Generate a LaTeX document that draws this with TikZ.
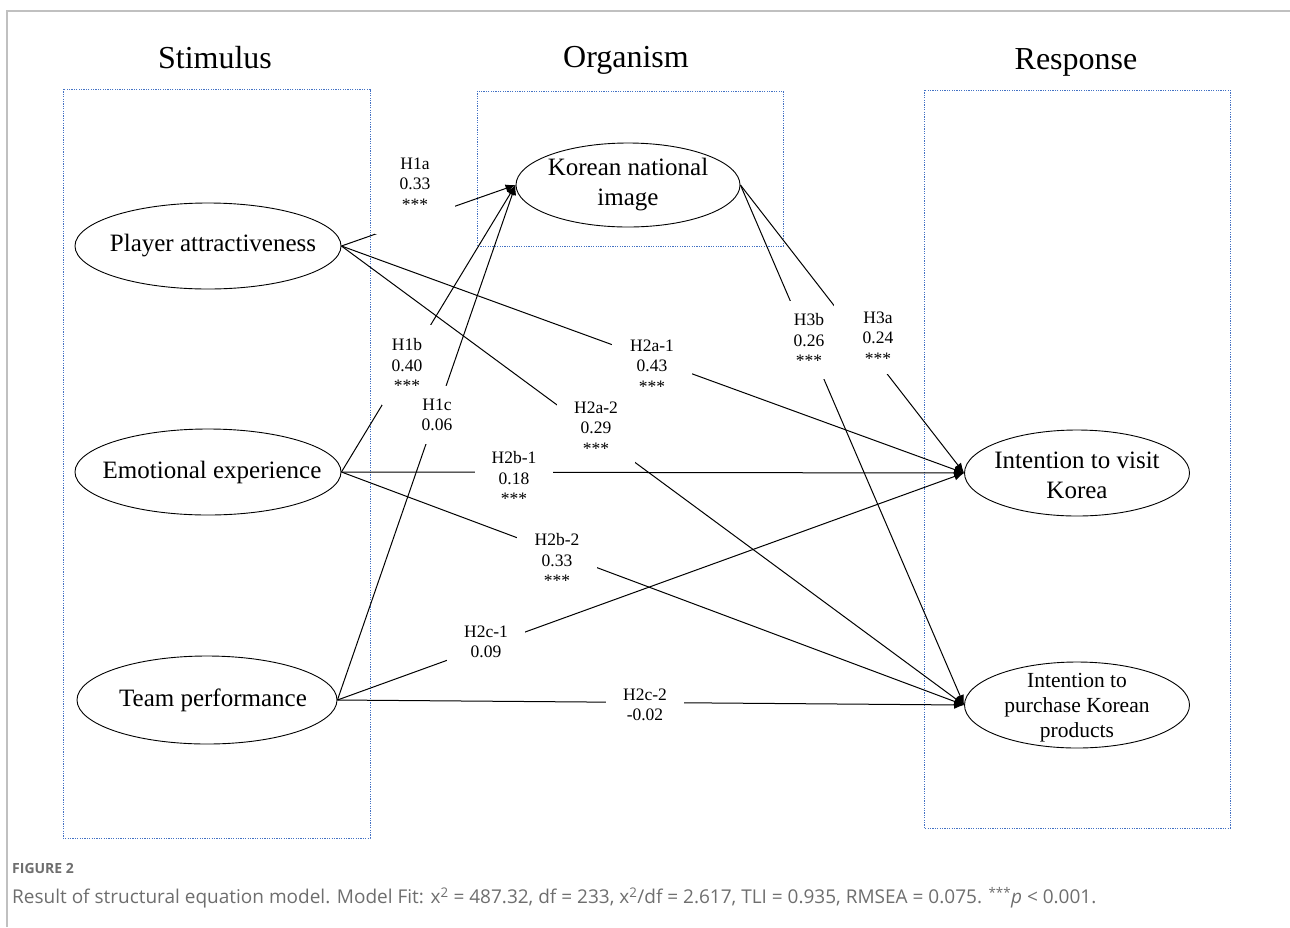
\documentclass[tikz,border=0pt]{standalone}
\usepackage{fontspec}
\setmainfont{Liberation Serif}
\newfontfamily\capfont{Open Sans}
\usetikzlibrary{shapes.geometric,arrows.meta}
\definecolor{boxblue}{RGB}{68,114,196}
\definecolor{framegray}{RGB}{192,192,192}
\definecolor{capgray}{RGB}{110,110,110}
\begin{document}
\begin{tikzpicture}[x=1pt,y=-1pt,
  construct/.style={draw, ellipse, line width=0.9pt, inner sep=0pt, minimum width=266pt, minimum height=86pt},
  ctext/.style={inner sep=0pt, align=center, font=\fontsize{25}{30}\selectfont},
  ctextsmall/.style={inner sep=0pt, align=center, font=\fontsize{21.5}{25}\selectfont},
  group/.style={draw=boxblue, line width=1pt, dash pattern=on 1.2pt off 1.2pt},
  header/.style={inner sep=0pt, anchor=base, font=\fontsize{32}{36}\selectfont},
  pathline/.style={line width=1pt, -{Latex[length=10pt,width=8pt]}},
  coef/.style={fill=white, inner sep=0pt, align=center, font=\fontsize{17.5}{20.5}\selectfont},
]
\useasboundingbox (0,0) rectangle (1290,927);
% frame
\draw[framegray, line width=1.3pt] (7,927) -- (7,11) -- (1290,11);
% group boxes
\draw[group] (63,89) rectangle (370,838);
\draw[group] (477,91) rectangle (783,246);
\draw[group] (924,90) rectangle (1230,828);
% headers
\node[header] (hs) at (215,68) {Stimulus};
\node[header] (ho) at (626,67) {Organism};
\node[header] (hr) at (1076,69) {Response};
% constructs
\node[construct, label={[ctext, xshift=5pt]center:Player attractiveness}] (pa) at (208,246) {};
\node[construct, label={[ctext, xshift=4pt]center:Emotional experience}] (ee) at (208,472) {};
\node[construct, minimum width=260pt, minimum height=88pt, label={[ctext, xshift=6pt]center:Team performance}] (tp) at (207,700) {};
\node[construct, minimum width=224pt, minimum height=84pt, label={[ctext]center:{Korean national\\image}}] (kni) at (628,185) {};
\node[construct, minimum width=225pt, minimum height=86pt, label={[ctext, yshift=-2pt]center:{Intention to visit\\Korea}}] (vis) at (1077,473) {};
\node[construct, minimum width=225pt, minimum height=86pt, label={[ctextsmall, yshift=-3pt]center:{Intention to\\purchase Korean\\products}}] (pur) at (1077,705) {};
% paths
\draw[pathline] (pa.east) -- (kni.west);
\draw[pathline] (ee.east) -- (kni.west);
\draw[pathline] (tp.east) -- (kni.west);
\draw[pathline] (pa.east) -- (vis.west);
\draw[pathline] (pa.east) -- (pur.west);
\draw[pathline] (ee.east) -- (vis.west);
\draw[pathline] (ee.east) -- (pur.west);
\draw[pathline] (tp.east) -- (vis.west);
\draw[pathline] (tp.east) -- (pur.west);
\draw[pathline] (kni.east) -- (vis.west);
\draw[pathline] (kni.east) -- (pur.west);
% coefficients
\node[coef, minimum width=80pt, minimum height=100pt] (c1a) at (415,184) {H1a\\0.33\\***};
\node[coef, minimum width=50pt, minimum height=80pt] (c1b) at (407,365) {H1b\\0.40\\***};
\node[coef, minimum width=40pt, minimum height=58pt] (c1c) at (437,415) {H1c\\0.06};
\node[coef, minimum width=80pt, minimum height=60pt] (c2a1) at (652,366) {H2a-1\\0.43\\***};
\node[coef, minimum width=78pt, minimum height=70pt] (c2a2) at (596,428) {H2a-2\\0.29\\***};
\node[coef, minimum width=78pt, minimum height=60pt] (c2b1) at (514,478) {H2b-1\\0.18\\***};
\node[coef, minimum width=80pt, minimum height=60pt] (c2b2) at (557,560) {H2b-2\\0.33\\***};
\node[coef, minimum width=78pt, minimum height=48pt] (c2c1) at (486,642) {H2c-1\\0.09};
\node[coef, minimum width=78pt, minimum height=48pt] (c2c2) at (645,705) {H2c-2\\-0.02};
\node[coef, minimum width=88pt, minimum height=72pt] (c3a) at (878,338) {H3a\\0.24\\***};
\node[coef, minimum width=40pt, minimum height=78pt] (c3b) at (809,340) {H3b\\0.26\\***};
% caption
\node[anchor=west, inner sep=0pt, text=capgray, font=\capfont\bfseries\fontsize{14}{16}\selectfont] (fig) at (12,868) {FIGURE 2};
\node[anchor=west, inner sep=0pt, text=capgray, font=\capfont\fontsize{19}{22}\selectfont] (cap) at (12,898) {Result of structural equation model. Model Fit: x\textsuperscript{2} = 487.32, df = 233, x\textsuperscript{2}/df = 2.617, TLI = 0.935, RMSEA = 0.075. \textsuperscript{***}\textit{p} < 0.001.};
\end{tikzpicture}
\end{document}
